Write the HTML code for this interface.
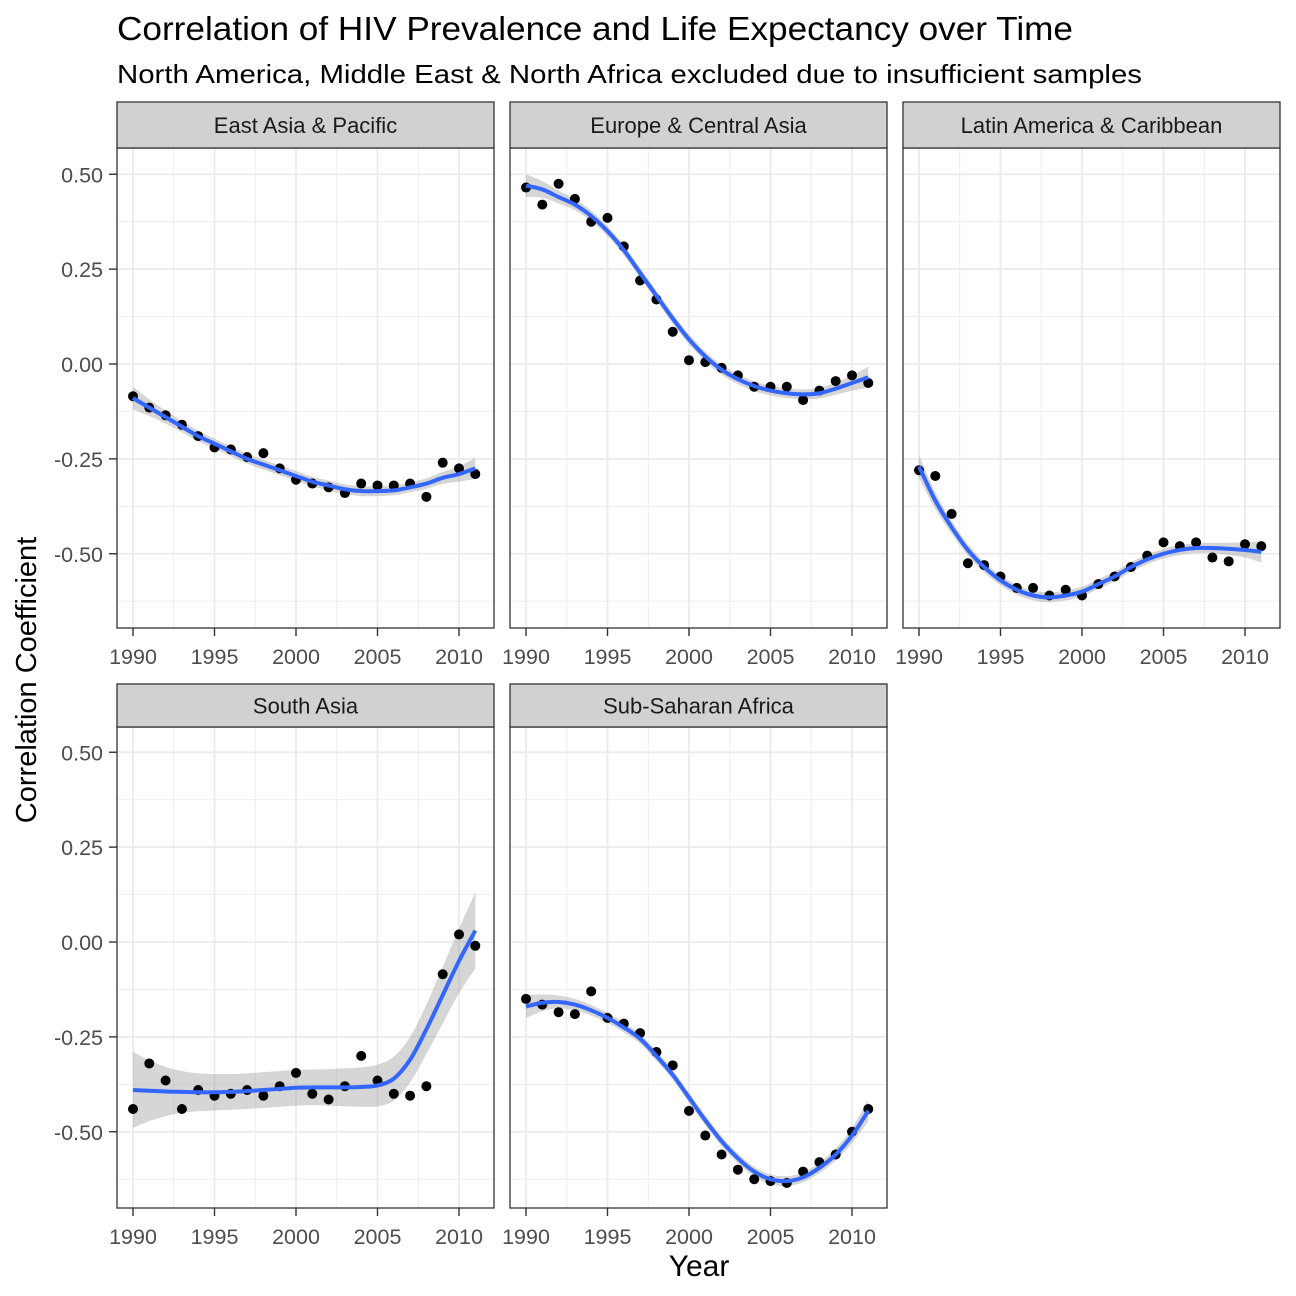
<!DOCTYPE html>
<html><head><meta charset="utf-8"><style>
body{margin:0;background:#fff}
svg{font-family:"Liberation Sans",Arial,sans-serif;display:block}
</style></head><body>
<svg id="c" width="1296" height="1296" viewBox="0 0 1296 1296">
<text x="117" y="40" font-size="33" textLength="956" lengthAdjust="spacingAndGlyphs" fill="#000">Correlation of HIV Prevalence and Life Expectancy over Time</text>
<text x="117" y="83" font-size="26" textLength="1025" lengthAdjust="spacingAndGlyphs" fill="#000">North America, Middle East &amp; North Africa excluded due to insufficient samples</text>
<text x="699" y="1276" font-size="30" text-anchor="middle" fill="#000">Year</text>
<text transform="translate(36,680) rotate(-90)" font-size="29" text-anchor="middle" fill="#000">Correlation Coefficient</text>
</svg>
<script>
const years=[1990,1991,1992,1993,1994,1995,1996,1997,1998,1999,2000,2001,2002,2003,2004,2005,2006,2007,2008,2009,2010,2011];
const regions=["East Asia & Pacific","Europe & Central Asia","Latin America & Caribbean","South Asia","Sub-Saharan Africa"];
const xTicks=[1990,1995,2000,2005,2010];
const yTicks=[0.5,0.25,0,-0.25,-0.5];
const yTickLabels=["0.50","0.25","0.00","-0.25","-0.50"];
const pointsEAP=[-0.085,-0.115,-0.135,-0.16,-0.19,-0.22,-0.225,-0.245,-0.235,-0.275,-0.305,-0.315,-0.325,-0.34,-0.315,-0.32,-0.32,-0.315,-0.35,-0.26,-0.275,-0.29];
const fitEAP=[-0.09,-0.115,-0.14,-0.165,-0.19,-0.21,-0.23,-0.25,-0.265,-0.28,-0.295,-0.31,-0.32,-0.33,-0.335,-0.335,-0.333,-0.325,-0.315,-0.30,-0.29,-0.275];
const pointsECA=[0.465,0.42,0.475,0.435,0.375,0.385,0.31,0.22,0.17,0.085,0.01,0.005,-0.01,-0.03,-0.06,-0.06,-0.06,-0.095,-0.07,-0.045,-0.03,-0.05];
const fitECA=[0.47,0.46,0.44,0.42,0.39,0.35,0.30,0.24,0.18,0.12,0.065,0.02,-0.015,-0.04,-0.058,-0.07,-0.077,-0.08,-0.077,-0.065,-0.05,-0.035];
const pointsLAC=[-0.28,-0.295,-0.395,-0.525,-0.53,-0.56,-0.59,-0.59,-0.61,-0.595,-0.61,-0.58,-0.56,-0.535,-0.505,-0.47,-0.48,-0.47,-0.51,-0.52,-0.475,-0.48];
const fitLAC=[-0.27,-0.36,-0.43,-0.49,-0.535,-0.57,-0.595,-0.61,-0.615,-0.61,-0.60,-0.58,-0.56,-0.535,-0.515,-0.50,-0.49,-0.485,-0.485,-0.487,-0.49,-0.495];
const pointsSA=[-0.44,-0.32,-0.365,-0.44,-0.39,-0.405,-0.40,-0.39,-0.405,-0.38,-0.345,-0.40,-0.415,-0.38,-0.30,-0.365,-0.40,-0.405,-0.38,-0.085,0.02,-0.01];
const fitSA=[-0.39,-0.392,-0.394,-0.395,-0.396,-0.396,-0.395,-0.393,-0.39,-0.387,-0.384,-0.383,-0.383,-0.383,-0.382,-0.378,-0.36,-0.31,-0.23,-0.14,-0.05,0.03];
const pointsSSA=[-0.15,-0.165,-0.185,-0.19,-0.13,-0.20,-0.215,-0.24,-0.29,-0.325,-0.445,-0.51,-0.56,-0.60,-0.625,-0.63,-0.635,-0.605,-0.58,-0.56,-0.50,-0.44];
const fitSSA=[-0.17,-0.16,-0.158,-0.165,-0.18,-0.20,-0.225,-0.255,-0.30,-0.35,-0.41,-0.47,-0.525,-0.57,-0.605,-0.625,-0.63,-0.62,-0.595,-0.56,-0.51,-0.445];
const seStd=[0.03,0.022,0.017,0.015,0.014,0.013,0.013,0.013,0.013,0.013,0.013,0.013,0.013,0.013,0.013,0.013,0.013,0.013,0.014,0.016,0.02,0.028];
const seSA=[0.1,0.08,0.065,0.055,0.05,0.048,0.047,0.047,0.047,0.047,0.047,0.047,0.048,0.05,0.052,0.055,0.058,0.06,0.065,0.075,0.085,0.1];
const allPoints=[pointsEAP,pointsECA,pointsLAC,pointsSA,pointsSSA];
const allFits=[fitEAP,fitECA,fitLAC,fitSA,fitSSA];
const allSe=[seStd,seStd,seStd,seSA,seStd];

const NS="http://www.w3.org/2000/svg";
const svg=document.getElementById('c');
function mk(tag,attrs,parent){const e=document.createElementNS(NS,tag);for(const k in attrs)e.setAttribute(k,attrs[k]);(parent||svg).appendChild(e);return e;}
const colX=[117,510,903], panelW=377;
const rows=[{strip:102,top:148,bot:628,zero:364},{strip:684,top:727,bot:1208,zero:942}];
const pxPerUnit=379.5, pxPerYear=16.3;
function smooth(pts){let d="M"+pts[0][0]+","+pts[0][1];for(let i=0;i<pts.length-1;i++){const p0=pts[i-1]||pts[i],p1=pts[i],p2=pts[i+1],p3=pts[i+2]||p2;d+=" C"+(p1[0]+(p2[0]-p0[0])/6)+","+(p1[1]+(p2[1]-p0[1])/6)+" "+(p2[0]-(p3[0]-p1[0])/6)+","+(p2[1]-(p3[1]-p1[1])/6)+" "+p2[0]+","+p2[1];}return d;}

regions.forEach((name,i)=>{
  const r=rows[Math.floor(i/3)], x0=colX[i%3];
  const X=yr=>x0+16+(yr-1990)*pxPerYear;
  const Y=v=>r.zero-v*pxPerUnit;
  const g=mk('g',{});
  
  
  mk('rect',{x:x0,y:r.top,width:panelW,height:r.bot-r.top,fill:'#fff'},g);
  for(let yr=1992.5;yr<2012;yr+=5){mk('line',{x1:X(yr),x2:X(yr),y1:r.top,y2:r.bot,stroke:'#ebebeb','stroke-width':0.9},g);}
  for(let v=0.375;v>-0.7;v-=0.25){if(Y(v)>r.top&&Y(v)<r.bot)mk('line',{x1:x0,x2:x0+panelW,y1:Y(v),y2:Y(v),stroke:'#ebebeb','stroke-width':0.9},g);}
  xTicks.forEach(t=>{const l=mk('line',{x1:X(t),x2:X(t),y1:r.top,y2:r.bot,stroke:'#ebebeb','stroke-width':1.8},g);});
  yTicks.forEach(t=>{const l=mk('line',{x1:x0,x2:x0+panelW,y1:Y(t),y2:Y(t),stroke:'#ebebeb','stroke-width':1.8},g);});
  const fit=allFits[i], se=allSe[i];
  const up=years.map((yr,k)=>[X(yr),Y(fit[k]+se[k])]);
  const lo=years.map((yr,k)=>[X(yr),Y(fit[k]-se[k])]).reverse();
  const los=smooth(lo);
  const band=mk('path',{d:smooth(up)+" L"+lo[0][0]+","+lo[0][1]+los.slice(los.indexOf(' '))+" Z",fill:'#999',opacity:0.4},g);
  
  allPoints[i].forEach((v,k)=>{const c=mk('circle',{cx:X(years[k]),cy:Y(v),r:5,fill:'#000'},g);});
  const ln=mk('path',{d:smooth(years.map((yr,k)=>[X(yr),Y(fit[k])])),fill:'none',stroke:'#3366FF','stroke-width':4},g);
  
  mk('rect',{x:x0,y:r.top,width:panelW,height:r.bot-r.top,fill:'none',stroke:'#333','stroke-width':1.3},g);
  const s=mk('rect',{x:x0,y:r.strip,width:panelW,height:r.top-r.strip,fill:'#d1d1d1',stroke:'#333','stroke-width':1.3},g);
  
  const st=mk('text',{x:x0+panelW/2,y:(r.strip+r.top)/2+8,'text-anchor':'middle','font-size':22,fill:'#1a1a1a'},g);st.textContent=name;
  
  xTicks.forEach(t=>{mk('line',{x1:X(t),x2:X(t),y1:r.bot,y2:r.bot+8,stroke:'#333','stroke-width':1.4},g);const tx=mk('text',{x:X(t),y:r.bot+36,'text-anchor':'middle','font-size':21.5,fill:'#4d4d4d'},g);tx.textContent=t;});
  if(i%3===0){yTicks.forEach((t,k)=>{mk('line',{x1:x0-8,x2:x0,y1:Y(t),y2:Y(t),stroke:'#333','stroke-width':1.4},g);const tx=mk('text',{x:x0-14,y:Y(t)+8,'text-anchor':'end','font-size':21.5,fill:'#4d4d4d'},g);tx.textContent=yTickLabels[k];});}
});
</script>
</body></html>
